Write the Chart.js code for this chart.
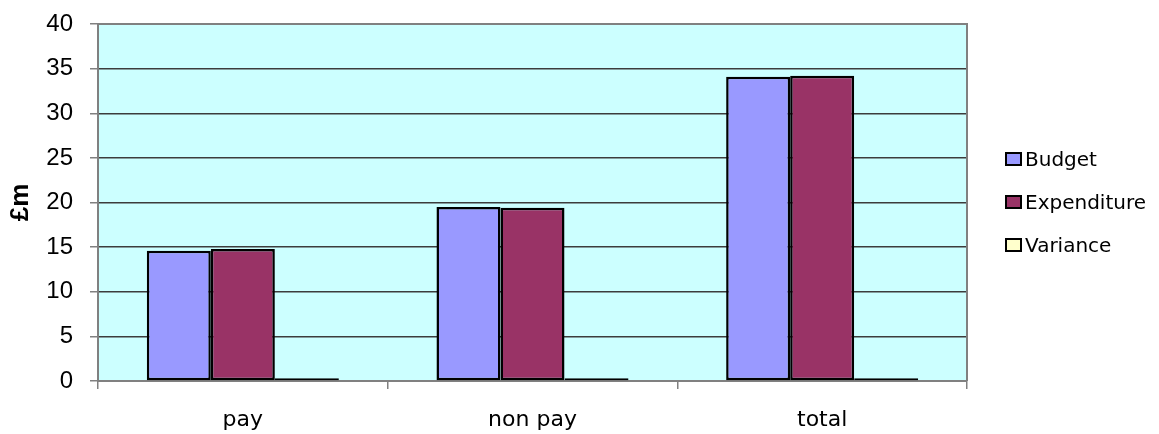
<!DOCTYPE html>
<html>
<head>
<meta charset="utf-8">
<script src="https://cdn.jsdelivr.net/npm/chart.js@4"></script>
<style>
  body { margin: 0; background: #fff; }
  #wrap { position: relative; width: 1159px; height: 434px; }
  #legend { position: absolute; left: 1005px; top: 152px; font-family: "DejaVu Sans", sans-serif; font-size: 20px; color: #000; }
  .item { position: absolute; left: 0; height: 14px; white-space: nowrap; }
  .box { position: absolute; left: 0; top: 0; width: 13px; height: 10px; border: 2px solid #000; }
  .lbl { position: absolute; left: 20px; top: -5px; line-height: 24px; }
</style>
</head>
<body>
<div id="wrap">
  <canvas id="budgetChart" width="1159" height="434"></canvas>
  <div id="legend"></div>
</div>
<script>
// ==========================================
// DATA (£m)
// ==========================================
const categories = ['pay', 'non pay', 'total'];
const seriesNames = ['Budget', 'Expenditure', 'Variance'];
const budget = [14.6, 19.5, 34.1];
const expenditure = [14.8, 19.4, 34.2];
const variance = [0.3, 0.3, 0.3];
const yTicks = [0, 5, 10, 15, 20, 25, 30, 35, 40];
const seriesColors = ['#9999FF', '#993366', '#FFFFCC'];

// plot background + top/right frame like the Excel chart
const plotFrame = {
    id: 'plotFrame',
    beforeDraw(chart) {
        const a = chart.chartArea, c = chart.ctx;
        c.save();
        c.fillStyle = '#CCFFFF';
        c.fillRect(a.left, a.top, a.right - a.left, a.bottom - a.top);
        c.restore();
    },
    afterDraw(chart) {
        const a = chart.chartArea, c = chart.ctx;
        c.save();
        c.strokeStyle = '#808080';
        c.lineWidth = 2;
        c.beginPath();
        c.moveTo(a.left, a.top);
        c.lineTo(a.right, a.top);
        c.lineTo(a.right, a.bottom);
        c.stroke();
        c.restore();
    }
};

const seriesData = [budget, expenditure, variance];
const datasets = seriesNames.map((name, i) => ({
    label: name,
    data: seriesData[i],
    backgroundColor: seriesColors[i],
    borderColor: '#000',
    borderWidth: 2.5,
    borderSkipped: false,
    categoryPercentage: 0.663,
    barPercentage: 1
}));

const ctx = document.getElementById('budgetChart').getContext('2d');
const chart = new Chart(ctx, {
    type: 'bar',
    data: { labels: categories, datasets: datasets },
    plugins: [plotFrame],
    options: {
        responsive: false,
        animation: false,
        layout: { padding: { top: 24, right: 192, left: 0, bottom: 0 } },
        plugins: { legend: { display: false }, tooltip: { enabled: false } },
        scales: {
            x: {
                afterFit: s => { s.height = 53; },
                grid: { offset: true, drawOnChartArea: false, drawTicks: true, tickLength: 8, tickColor: '#808080', lineWidth: 1.5 },
                border: { color: '#808080', width: 2 },
                ticks: { color: '#000', padding: 18, font: { family: '"DejaVu Sans"', size: 22 } }
            },
            y: {
                min: 0,
                max: 40,
                // fixed axis width, and no extra label padding above the plot
                afterFit: s => { s.width = 98; s.paddingTop = 0; s.paddingBottom = 0; },
                afterBuildTicks: s => { s.ticks = yTicks.map(v => ({ value: v })); },
                grid: {
                    color: c => (c.tick && c.tick.value === 40) ? '#808080' : '#3c3c3c',
                    lineWidth: 1.5,
                    tickLength: 8,
                    tickColor: '#808080'
                },
                border: { color: '#808080', width: 2 },
                ticks: { color: '#000', padding: 17, font: { family: '"Liberation Sans"', size: 24 } },
                title: {
                    display: true,
                    text: '£m',
                    color: '#000',
                    padding: { top: 5, bottom: 0 },
                    font: { family: '"Liberation Sans"', size: 26, weight: 'bold' }
                }
            }
        }
    }
});

// Legend (html, built from the same series arrays)
const legend = document.getElementById('legend');
seriesNames.forEach((name, i) => {
    legend.innerHTML += `<div class="item" style="top:${i * 43}px">
        <span class="box" style="background:${seriesColors[i]}"></span>
        <span class="lbl">${name}</span>
    </div>`;
});
</script>
</body>
</html>
